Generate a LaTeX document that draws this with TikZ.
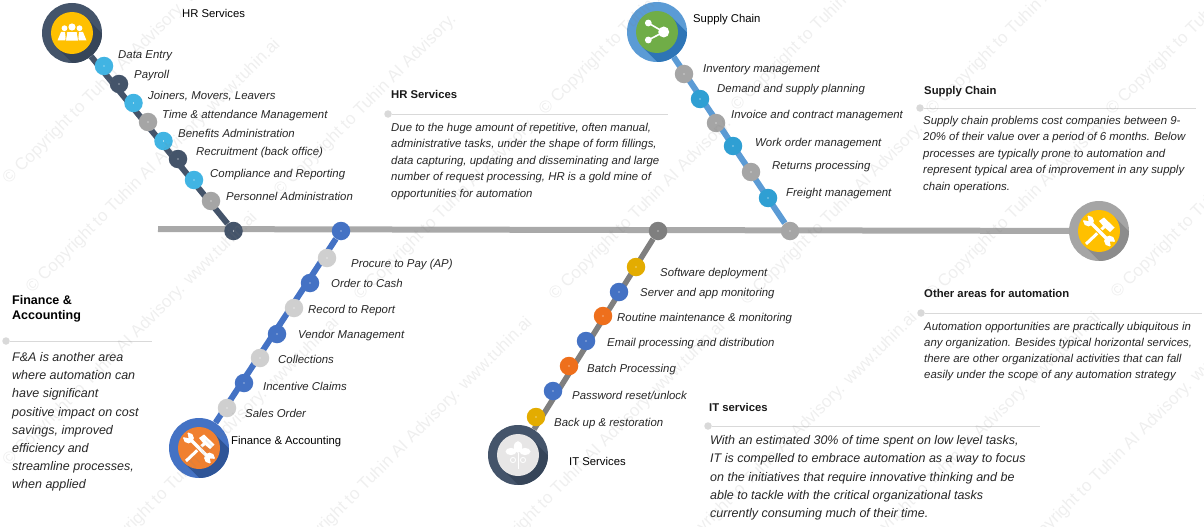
\documentclass[tikz,border=0pt]{standalone}
\usepackage{fontspec}
\setmainfont{Liberation Sans}
\pgfdeclarelayer{background}
\pgfsetlayers{background,main}
\definecolor{slate}{HTML}{44546A}
\definecolor{slatedk}{HTML}{364559}
\definecolor{sky}{HTML}{41B4E3}
\definecolor{midgray}{HTML}{A5A5A5}
\definecolor{spinegray}{HTML}{A9A9A9}
\definecolor{ltgray}{HTML}{CFCFCF}
\definecolor{royal}{HTML}{4472C4}
\definecolor{royaldk}{HTML}{2F5597}
\definecolor{orng}{HTML}{F08030}
\definecolor{orngdk}{HTML}{EE6F1C}
\definecolor{gold}{HTML}{FFC000}
\definecolor{golddk}{HTML}{E3AC00}
\definecolor{lblue}{HTML}{5B9BD5}
\definecolor{lbluedk}{HTML}{2E75B6}
\definecolor{teal}{HTML}{2F9FD3}
\definecolor{leaf}{HTML}{70AD47}
\definecolor{dgray}{HTML}{7F7F7F}
\definecolor{pale}{HTML}{E7E6E6}
\definecolor{rule}{HTML}{D9D9D9}
\definecolor{graydk}{HTML}{8C8C8C}
\tikzset{
  dotc/.style={circle,minimum size=18.5pt,inner sep=0pt,fill=#1,
    path picture={\fill[white] (path picture bounding box.center) circle (0.6pt);}},
  hubouter/.style={circle,minimum size=60pt,inner sep=0pt,fill=#1},
  hubinner/.style={circle,minimum size=42pt,inner sep=0pt,fill=#1},
  lab/.style={anchor=west,inner sep=0pt,yshift=-2pt,text height=7.9pt,text depth=2.3pt,font=\fontsize{11.4}{12}\selectfont\itshape,text=black!85},
  hublab/.style={anchor=west,inner sep=0pt,yshift=-2pt,text height=7.9pt,text depth=2.3pt,font=\fontsize{11.3}{12}\selectfont,text=black},
  head/.style={anchor=west,inner sep=0pt,yshift=-2pt,text height=7.9pt,text depth=2.3pt,font=\fontsize{11.3}{12}\selectfont\bfseries,text=black!90},
  body/.style={anchor=north west,inner sep=0pt,align=left,yshift=-2pt,font=\fontsize{11.4}{#1}\selectfont\itshape,text=black!85},
  bigbody/.style={anchor=north west,inner sep=0pt,align=left,yshift=-2.5pt,font=\fontsize{12.5}{#1}\selectfont\itshape,text=black!85},
  pin/.style={circle,minimum size=7.5pt,inner sep=0pt,fill=rule},
  fine/.style={draw=rule,line width=0.8pt},
  wm/.style={anchor=west,inner sep=0pt,rotate=45,font=\fontsize{17}{17}\selectfont,text=gray,text opacity=0.13},
  pics/toolsicon/.style={code={
    % hammer
    \draw[white,line width=3pt] (-13,13) -- (6,-5);
    \fill[white] (0,-10) -- (5,-13.5) -- (15.5,-3.5) -- (11,1) -- (5,-4) -- cycle;
    % wrench
    \draw[#1,line width=5.4pt] (-8,-8) -- (8,8);
    \draw[white,line width=3.4pt] (-8,-8) -- (8,8);
    \fill[white] (-10.5,-10) circle (5.4pt);
    \fill[white] (10.5,10) circle (5.4pt);
    \fill[#1] (-10.5,-10) -- (-17,-11) -- (-12,-17) -- cycle;
    \fill[#1] (11,10.5) -- (17,11) -- (12,17) -- cycle;
  }}
}
\newcommand{\hubshade}[2]{%
  \begin{scope}
    \clip (#1) circle (30pt);
    \fill[#2] (#1) ++(14.85,-14.85) -- ++(60,60) -- ++(-29.7,29.7) -- ++(-60,-60) -- cycle;
  \end{scope}}
\begin{document}
\begin{tikzpicture}[x=1pt,y=-1pt]
\useasboundingbox (0,0) rectangle (1204,527);

% main spine ends
\coordinate (spinestart) at (158,229);

% right hub
\node[hubouter=midgray] (otherhub) at (1099,231) {};
\hubshade{otherhub}{graydk}
\node[hubinner=gold] at (otherhub) {};
\pic at (otherhub) {toolsicon=gold};

% HR branch
\node[hubouter=slate] (hrhub) at (72,33) {};
\hubshade{hrhub}{slatedk}
\node[hubinner=gold] at (hrhub) {};
\begin{scope}[shift={(hrhub)}]
  \fill[white] (-7.5,-4.8) circle (2.9pt);
  \fill[white] (7.5,-4.8) circle (2.9pt);
  \fill[white] (0,-6) circle (3.6pt);
  \fill[white] (-11,-1) -- (-7,-1) -- (-6,7.5) -- (-14.5,7.5) -- cycle;
  \fill[white] (11,-1) -- (7,-1) -- (6,7.5) -- (14.5,7.5) -- cycle;
  \fill[white,draw=gold,line width=0.6pt] (-5,-1.5) -- (5,-1.5) -- (6.5,8) -- (-6.5,8) -- cycle;
\end{scope}
\node[hublab] (hrtitle) at (182,13) {HR Services};
\node[dotc=sky] (hr1) at (104,66) {};
\node[dotc=slate] (hr2) at (119,84) {};
\node[dotc=sky] (hr3) at (133.5,103) {};
\node[dotc=midgray] (hr4) at (148,122) {};
\node[dotc=sky] (hr5) at (163.5,141) {};
\node[dotc=slate] (hr6) at (178,159) {};
\node[dotc=sky] (hr7) at (194,180) {};
\node[dotc=midgray] (hr8) at (211,201) {};
\node[dotc=slate] (hrend) at (233.5,231) {};
\node[lab] at (118,54) {Data Entry};
\node[lab] at (134,74) {Payroll};
\node[lab] at (148,95) {Joiners, Movers, Leavers};
\node[lab] at (162,114) {Time \& attendance Management};
\node[lab] at (178,133) {Benefits Administration};
\node[lab] at (196,151) {Recruitment (back office)};
\node[lab] at (210,173) {Compliance and Reporting};
\node[lab] at (226,196) {Personnel Administration};

% Supply branch
\node[hubouter=lblue] (schub) at (657,32) {};
\hubshade{schub}{lbluedk}
\node[hubinner=leaf] at (schub) {};
\begin{scope}[shift={(schub)}]
  \draw[white,line width=1.6pt] (-8.7,-9) -- (6.7,0) -- (-8.7,8);
  \fill[white] (6.7,0) circle (5.5pt);
  \fill[white] (-8.7,-9) circle (3.4pt);
  \fill[white] (-8.7,8) circle (3.4pt);
\end{scope}
\node[hublab] (sctitle) at (693,18) {Supply Chain};
\node[dotc=midgray] (sc1) at (684,74) {};
\node[dotc=teal] (sc2) at (700,99) {};
\node[dotc=midgray] (sc3) at (716,123) {};
\node[dotc=teal] (sc4) at (733,146) {};
\node[dotc=midgray] (sc5) at (751,172) {};
\node[dotc=teal] (sc6) at (768,198) {};
\node[dotc=midgray] (scend) at (790,231) {};
\node[lab] at (703,68) {Inventory management};
\node[lab] at (717,88) {Demand and supply planning};
\node[lab] at (731,114) {Invoice and contract management};
\node[lab] at (755,142) {Work order management};
\node[lab] at (772,165) {Returns processing};
\node[lab] at (786,192) {Freight management};

% Finance branch
\node[hubouter=royal] (fahub) at (199,448) {};
\hubshade{fahub}{royaldk}
\node[hubinner=orng] at (fahub) {};
\pic at (fahub) {toolsicon=orng};
\node[hublab] (fatitle) at (231,440) {Finance \& Accounting};
\node[dotc=royal] (faend) at (341,231) {};
\node[dotc=ltgray] (fa1) at (327,258) {};
\node[dotc=royal] (fa2) at (310,283) {};
\node[dotc=ltgray] (fa3) at (294,308) {};
\node[dotc=royal] (fa4) at (277,334) {};
\node[dotc=ltgray] (fa5) at (260,358) {};
\node[dotc=royal] (fa6) at (244,383) {};
\node[dotc=ltgray] (fa7) at (227,408) {};
\node[lab] at (351,263) {Procure to Pay (AP)};
\node[lab] at (331,283) {Order to Cash};
\node[lab] at (308,309) {Record to Report};
\node[lab] at (298,334) {Vendor Management};
\node[lab] at (278,359) {Collections};
\node[lab] at (263,386) {Incentive Claims};
\node[lab] at (245,413) {Sales Order};

% IT branch
\node[hubouter=slate] (ithub) at (518,455) {};
\hubshade{ithub}{slatedk}
\node[hubinner=pale] at (ithub) {};
\begin{scope}[shift={(ithub)}]
  \draw[white,line width=0.8pt] (0,-2) -- (0,14);
  \fill[white] (0,-8) ellipse (4.2pt and 5.8pt);
  \fill[white] (-7,-3.5) ellipse (5.5pt and 3.6pt);
  \fill[white] (7,-3.5) ellipse (5.5pt and 3.6pt);
  \draw[white,line width=0.8pt] (-5,5) circle (2.6pt);
  \draw[white,line width=0.8pt] (5,5) circle (2.6pt);
\end{scope}
\node[hublab] (ittitle) at (569,461) {IT Services};
\node[dotc=dgray] (itend) at (658,231) {};
\node[dotc=golddk] (it1) at (636,267) {};
\node[dotc=royal] (it2) at (619,292) {};
\node[dotc=orngdk] (it3) at (603,316) {};
\node[dotc=royal] (it4) at (586,341) {};
\node[dotc=orngdk] (it5) at (569,366) {};
\node[dotc=royal] (it6) at (553,391) {};
\node[dotc=golddk] (it7) at (536,417) {};
\node[lab] at (660,272) {Software deployment};
\node[lab] at (640,292) {Server and app monitoring};
\node[lab] at (617,317) {Routine maintenance \& monitoring};
\node[lab] at (607,342) {Email processing and distribution};
\node[lab] at (587,368) {Batch Processing};
\node[lab] at (572,395) {Password reset/unlock};
\node[lab] at (554,422) {Back up \& restoration};

% connectors
\begin{pgfonlayer}{background}
  \draw[spinegray,line width=6pt] (spinestart) -- (otherhub);
  \draw[slate,line width=6pt] (hrhub) -- (hrend);
  \draw[lblue,line width=6pt] (schub) -- (scend);
  \draw[royal,line width=6pt] (fahub) -- (faend);
  \draw[dgray,line width=5.5pt] (ithub) -- (itend);
\end{pgfonlayer}

% text blocks
\node[head] (hrhead) at (391,94) {HR Services};
\node[pin] (hrpin) at (388,114) {};
\coordinate (hrrule) at (668,114);
\draw[fine] (hrpin) -- (hrrule);
\node[body=16.4] (hrbody) at (391,121) {Due to the huge amount of repetitive, often manual,\\administrative tasks, under the shape of form fillings,\\data capturing, updating and disseminating and large\\number of request processing, HR is a gold mine of\\opportunities for automation};

\node[head] (schead) at (924,90) {Supply Chain};
\node[pin] (scpin) at (920,108) {};
\coordinate (scrule) at (1196,108);
\draw[fine] (scpin) -- (scrule);
\node[body=16.4] (scbody) at (923,114) {Supply chain problems cost companies between 9-\\20\% of their value over a period of 6 months. Below\\processes are typically prone to automation and\\represent typical area of improvement in any supply\\chain operations.};

\node[head] (othead) at (924,293) {Other areas for automation};
\node[pin] (otpin) at (921,313) {};
\coordinate (otrule) at (1202,313);
\draw[fine] (otpin) -- (otrule);
\node[body=16] (otbody) at (924,320) {Automation opportunities are practically ubiquitous in\\any organization. Besides typical horizontal services,\\there are other organizational activities that can fall\\easily under the scope of any automation strategy};

\node[head] (ithead) at (709,407) {IT services};
\node[pin] (itpin) at (708,426) {};
\coordinate (itrule) at (1040,426);
\draw[fine] (itpin) -- (itrule);
\node[bigbody=18.2] (itbody) at (710,433) {With an estimated 30\% of time spent on low level tasks,\\IT is compelled to embrace automation as a way to focus\\on the initiatives that require innovative thinking and be\\able to tackle with the critical organizational tasks\\currently consuming much of their time.};

\node[anchor=north west,inner sep=0pt,align=left,yshift=-2pt,font=\fontsize{12.5}{15}\selectfont\bfseries] (fahead) at (12,293) {Finance \&\\Accounting};
\node[pin] (fapin) at (6,341) {};
\coordinate (farule) at (152,341);
\draw[fine] (fapin) -- (farule);
\node[bigbody=18.1] (fabody) at (12,350) {F\&A is another area\\where automation can\\have significant\\positive impact on cost\\savings, improved\\efficiency and\\streamline processes,\\when applied};

% watermark
\begin{scope}
\clip (0,0) rectangle (1204,527);
\foreach \px/\py in {12/176,35/285,12/458,94/563,287/563,480/567,672/558,855/558,1019/555}
  \node[wm] at (\px-6,\py+6) {© Copyright to Tuhin AI Advisory. www.tuhin.ai};
\foreach \px/\py in {283/188,363/292,558/292,750/297,935/292,1120/290,548/107,740/103,935/107,1115/107}
  \node[wm] at (\px-6,\py+6) {© Copyright to Tuhin AI Advisory.};
\end{scope}
\end{tikzpicture}
\end{document}
